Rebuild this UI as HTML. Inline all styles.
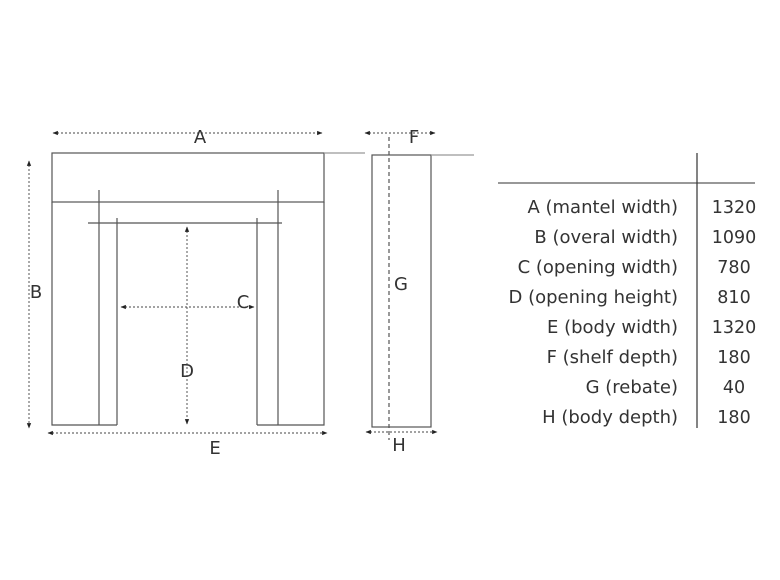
<!DOCTYPE html>
<html><head><meta charset="utf-8"><style>
body{margin:0;background:#fff}
svg{display:block}
text{font-family:"DejaVu Sans","Liberation Sans",sans-serif;fill:#333}
</style></head><body>
<svg width="780" height="580" viewBox="0 0 780 580" xmlns="http://www.w3.org/2000/svg">
<defs>
<marker id="ah" viewBox="0 0 10 10" refX="9" refY="5" markerWidth="6" markerHeight="6" orient="auto-start-reverse"><path d="M0,1 L10,5 L0,9 z" fill="#222"/></marker>
</defs>
<g stroke="#555" stroke-width="1.2" fill="none">
<rect x="52" y="153" width="272" height="49"/>
<line x1="324" y1="153" x2="365" y2="153" stroke="#999"/>
<path d="M52,202 L52,425 L117,425 M99,190 L99,425 M117,218 L117,425"/>
<path d="M324,202 L324,425 L257,425 M278,190 L278,425 M257,218 L257,425"/>
<line x1="88" y1="223" x2="282" y2="223"/>
<rect x="372" y="155" width="59" height="272"/>
<line x1="431" y1="155" x2="474" y2="155" stroke="#999"/>
<line x1="389" y1="137" x2="389" y2="440" stroke-dasharray="4,3"/>
</g>
<g stroke="#444" stroke-width="0.9" stroke-dasharray="2,2" fill="none">
<line x1="53" y1="133" x2="322" y2="133" marker-start="url(#ah)" marker-end="url(#ah)"/>
<line x1="29" y1="161" x2="29" y2="428" marker-start="url(#ah)" marker-end="url(#ah)"/>
<line x1="121" y1="307" x2="254" y2="307" marker-start="url(#ah)" marker-end="url(#ah)"/>
<line x1="187" y1="227" x2="187" y2="424" marker-start="url(#ah)" marker-end="url(#ah)"/>
<line x1="48" y1="433" x2="327" y2="433" marker-start="url(#ah)" marker-end="url(#ah)"/>
<line x1="365" y1="133" x2="435" y2="133" marker-start="url(#ah)" marker-end="url(#ah)"/>
<line x1="366" y1="432" x2="437" y2="432" marker-start="url(#ah)" marker-end="url(#ah)"/>
</g>
<g font-size="18" text-anchor="middle">
<text x="200" y="143">A</text>
<text x="36" y="298">B</text>
<text x="243" y="308">C</text>
<text x="187" y="377">D</text>
<text x="215" y="454">E</text>
<text x="414" y="143">F</text>
<text x="401" y="290">G</text>
<text x="399" y="451">H</text>
</g>
<g stroke="#333" stroke-width="1.2">
<line x1="498" y1="183" x2="755" y2="183" stroke="#777" stroke-width="1.5"/>
<line x1="697" y1="153" x2="697" y2="428"/>
</g>
<g font-size="18" text-anchor="end">
<text x="678" y="213">A (mantel width)</text>
<text x="678" y="243">B (overal width)</text>
<text x="678" y="273">C (opening width)</text>
<text x="678" y="303">D (opening height)</text>
<text x="678" y="333">E (body width)</text>
<text x="678" y="363">F (shelf depth)</text>
<text x="678" y="393">G (rebate)</text>
<text x="678" y="423">H (body depth)</text>
</g>
<g font-size="17.5" text-anchor="middle">
<text x="734" y="213">1320</text>
<text x="734" y="243">1090</text>
<text x="734" y="273">780</text>
<text x="734" y="303">810</text>
<text x="734" y="333">1320</text>
<text x="734" y="363">180</text>
<text x="734" y="393">40</text>
<text x="734" y="423">180</text>
</g>
</svg>
</body></html>
